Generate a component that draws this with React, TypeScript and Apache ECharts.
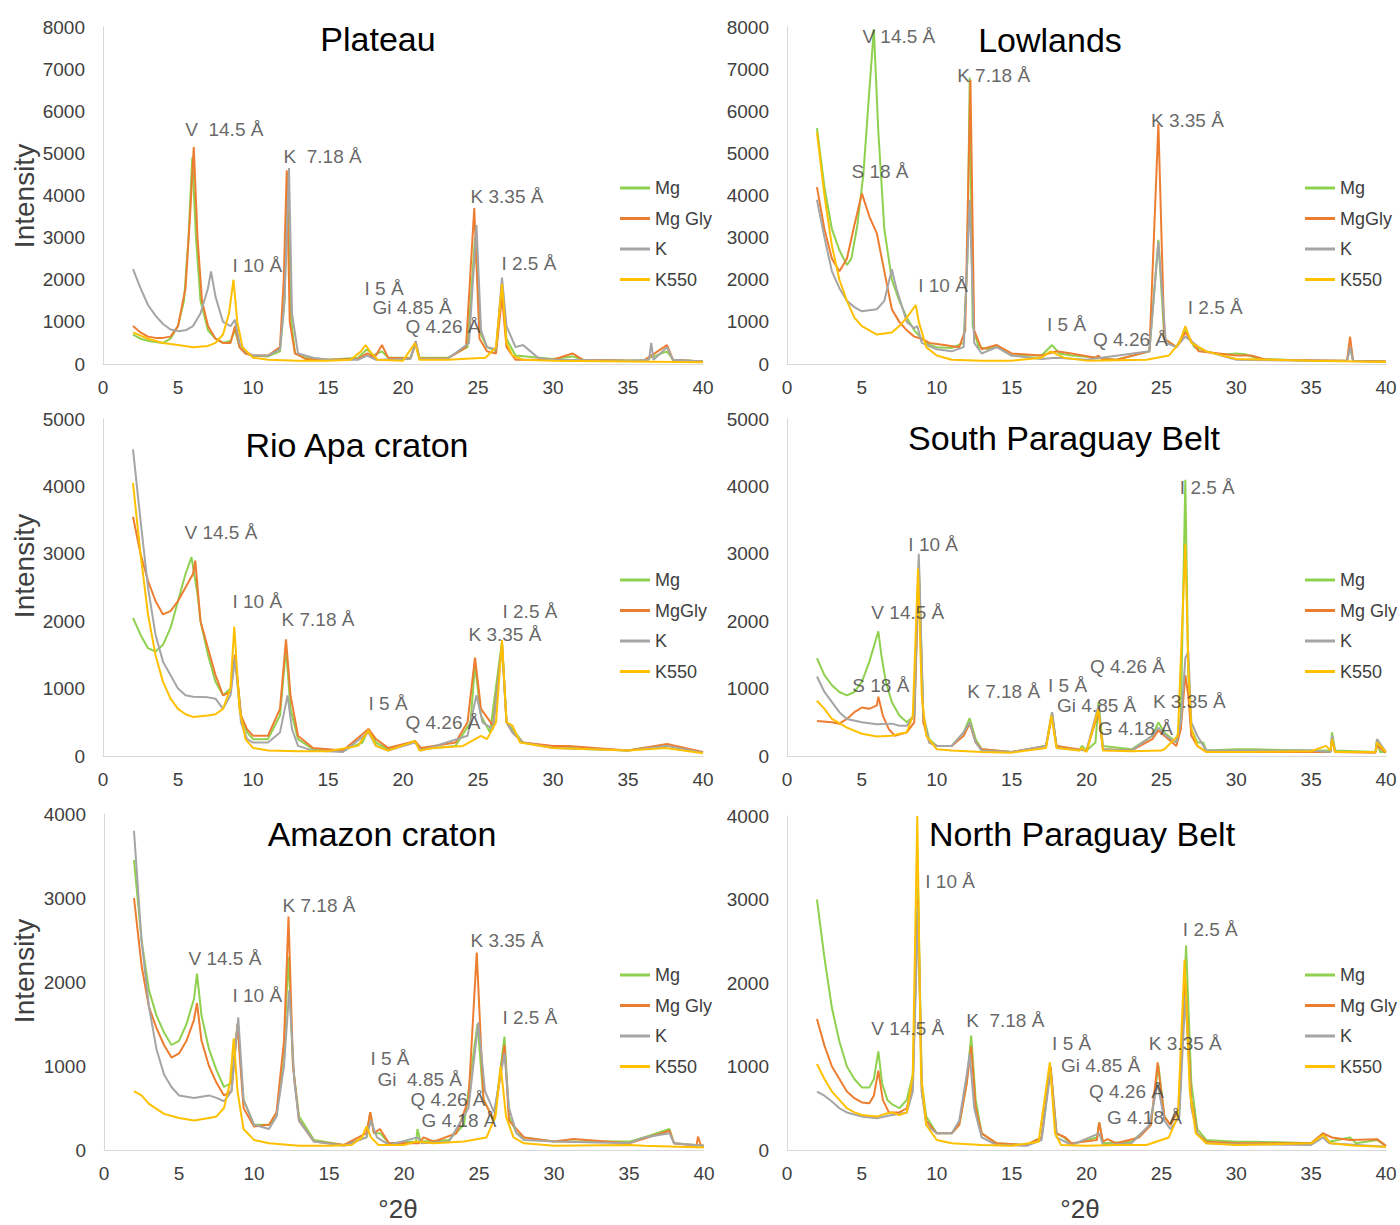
import React, { useEffect, useRef } from 'react';
import * as echarts from 'echarts';

const FONT = '"Liberation Sans", Arial, sans-serif';
const COLORS = ['#8fd14f', '#ed7d31', '#a5a5a5', '#ffc000'];

// ---------- Plateau ----------
const plateauMg = [[2,700],[2.5,600],[3,550],[3.5,520],[4,500],[4.5,600],[5,900],[5.4,1500],[5.7,3000],[5.95,4900],[6.2,3000],[6.5,1500],[7,800],[7.5,600],[8,500],[8.5,550],[8.8,800],[9.1,400],[9.5,250],[10,200],[11,180],[11.8,300],[12.1,1500],[12.3,4550],[12.5,1200],[12.8,250],[13.5,150],[15,100],[17,150],[17.6,350],[18,200],[18.6,300],[19,150],[20.5,150],[20.85,500],[21.1,150],[23,150],[24.3,400],[24.8,3000],[25.2,700],[25.6,400],[26.2,300],[26.6,1900],[26.9,600],[27.5,200],[30,120],[31.3,180],[32,100],[36,80],[36.5,150],[37.6,300],[38,100],[40,60]];
const plateauMgGly = [[2,900],[2.5,750],[3,650],[3.5,620],[4,620],[4.5,650],[5,900],[5.5,1800],[5.8,3500],[6.05,5150],[6.3,3000],[6.6,1500],[7,900],[7.5,600],[8,500],[8.5,500],[8.8,900],[9.1,400],[9.5,250],[10,200],[11,200],[11.8,400],[12.05,2000],[12.25,4600],[12.45,1000],[12.8,250],[13.5,120],[15,100],[17,120],[17.6,250],[18.1,150],[18.6,450],[19,150],[20.5,130],[20.85,500],[21.1,130],[23,130],[24.2,400],[24.75,3700],[25.1,600],[25.6,300],[26.2,250],[26.6,1600],[26.9,400],[27.2,250],[27.5,100],[30,100],[31.3,250],[32,100],[36,70],[37.6,450],[38,100],[40,60]];
const plateauK = [[2,2250],[2.5,1800],[3,1400],[3.5,1150],[4,950],[4.5,820],[5,780],[5.5,800],[6,900],[6.5,1200],[7,1800],[7.2,2200],[7.5,1600],[8,1000],[8.5,900],[8.8,1050],[9.1,500],[9.5,300],[10,200],[11,200],[11.8,350],[12.1,1500],[12.4,4650],[12.6,1200],[13,250],[14,150],[15,100],[17,100],[17.6,200],[18.2,100],[20.5,120],[20.85,550],[21.1,120],[23,130],[24.4,500],[24.9,3300],[25.2,800],[25.6,400],[26.2,350],[26.6,2050],[26.9,900],[27.5,400],[28,450],[28.5,300],[29,150],[30,100],[35,80],[36.4,100],[36.55,500],[36.7,100],[37.6,400],[38,100],[40,60]];
const plateauK550 = [[2,750],[3,600],[4,500],[5,450],[6,400],[7,430],[7.5,500],[8,700],[8.4,1200],[8.7,2000],[8.95,1000],[9.3,400],[10,150],[11,100],[13,80],[15,80],[16.5,100],[17.2,300],[17.5,450],[17.8,300],[18.3,100],[20,80],[20.8,500],[21.1,100],[23,100],[24.5,130],[25.5,150],[26.2,400],[26.6,1900],[26.9,500],[27.3,200],[28,100],[30,80],[35,60],[40,40]];
const plateauLabels = [
  { name: 'V  14.5 Å', value: [5.45, 5555] },
  { name: 'I 10 Å', value: [8.6, 2350] },
  { name: 'K  7.18 Å', value: [12.0, 4914] },
  { name: 'I 5 Å', value: [17.4, 1804] },
  { name: 'Gi 4.85 Å', value: [17.93, 1353] },
  { name: 'Q 4.26 Å', value: [20.13, 902] },
  { name: 'K 3.35 Å', value: [24.47, 3988] },
  { name: 'I 2.5 Å', value: [26.53, 2374] },
];

// ---------- Lowlands ----------
const lowMg = [[2,5600],[2.5,4200],[3,3200],[3.5,2700],[4,2350],[4.3,2500],[4.7,3300],[5.1,4500],[5.5,6500],[5.8,7950],[6.1,5500],[6.5,3200],[7,2000],[7.5,1500],[8,1100],[8.5,800],[9,600],[9.5,450],[10,400],[11,380],[11.8,500],[12.05,2500],[12.2,6800],[12.4,900],[12.8,400],[13.5,350],[14,450],[14.5,300],[15,200],[17,200],[17.7,450],[18.2,250],[19,200],[20.8,150],[22,100],[24.2,300],[24.8,2950],[25.2,600],[26,400],[26.6,800],[27.2,400],[28,300],[29,220],[30,250],[30.6,230],[31.5,120],[35,80],[37.4,80],[37.6,400],[37.8,80],[40,60]];
const lowMgGly = [[2,4200],[2.5,3200],[3,2500],[3.5,2200],[4,2500],[4.5,3300],[5,4050],[5.5,3500],[6,3100],[6.5,2200],[7,1300],[7.5,1000],[8,800],[8.5,650],[9,600],[9.5,500],[10.5,450],[11.5,400],[11.9,800],[12.25,6750],[12.5,800],[13,350],[14,450],[15,250],[17,200],[18,300],[19,250],[20.6,150],[20.8,200],[21,120],[22,100],[24.2,300],[24.8,5700],[25.2,600],[26,400],[26.6,750],[27.5,300],[30,200],[31,200],[32,100],[37.4,80],[37.6,650],[37.8,80],[40,60]];
const lowK = [[2,3900],[2.5,3000],[3,2200],[3.5,1800],[4,1500],[4.5,1350],[5,1250],[6,1300],[6.5,1500],[7,2250],[7.3,1800],[8,1000],[8.5,850],[8.7,900],[9,500],[10,350],[11,300],[11.8,400],[12.2,3900],[12.5,500],[13,250],[14,400],[15,200],[17,120],[18,150],[20,100],[24.2,300],[24.8,2900],[25.3,500],[26,400],[26.6,650],[27.5,400],[28,300],[30,100],[37.4,70],[37.6,400],[37.8,70],[40,50]];
const lowK550 = [[2,5500],[2.5,4000],[3,2800],[3.5,2000],[4,1500],[4.5,1100],[5,900],[6,700],[7,750],[7.5,900],[8,1100],[8.6,1400],[8.8,1000],[9.3,400],[10,200],[11,100],[13,80],[15,80],[17,150],[17.6,300],[18.5,150],[20,80],[24,100],[25.5,200],[26.2,500],[26.6,900],[27,500],[28,300],[30,120],[35,80],[40,50]];
const lowLabels = [
  { name: 'V 14.5 Å', value: [5.0, 7786] },
  { name: 'K 7.18 Å', value: [11.33, 6860] },
  { name: 'S 18 Å', value: [4.27, 4558] },
  { name: 'I 10 Å', value: [8.73, 1852] },
  { name: 'K 3.35 Å', value: [24.27, 5769] },
  { name: 'I 5 Å', value: [17.33, 926] },
  { name: 'Q 4.26 Å', value: [20.4, 570] },
  { name: 'I 2.5 Å', value: [26.73, 1353] },
];

// ---------- Rio Apa craton ----------
const rioMg = [[2,2050],[2.5,1800],[3,1600],[3.5,1550],[4,1650],[4.5,1900],[5,2300],[5.5,2700],[5.9,2950],[6.3,2400],[6.5,2000],[7,1500],[7.5,1100],[8,900],[8.5,1000],[8.8,1500],[9.2,600],[9.6,350],[10,250],[11,250],[11.8,600],[12.2,1600],[12.5,700],[13,250],[14,100],[16,80],[17.3,200],[17.7,400],[18.2,200],[19,100],[20.8,220],[21.2,100],[23.5,150],[24.5,500],[24.8,1350],[25.2,600],[25.8,350],[26.6,1700],[26.9,500],[27.3,400],[28,200],[30,130],[35,80],[36,120],[37.6,150],[40,50]];
const rioMgGly = [[2,3550],[2.5,3000],[3,2600],[3.5,2300],[4,2100],[4.5,2150],[5,2300],[5.5,2500],[6,2700],[6.15,2900],[6.5,2000],[7,1600],[7.5,1200],[8,900],[8.5,950],[8.8,1500],[9.2,600],[9.6,400],[10,300],[11,300],[11.8,700],[12.2,1730],[12.5,900],[13,300],[14,120],[16,80],[17.7,400],[18.2,250],[19,120],[20.8,220],[21.2,120],[23.5,200],[24.3,500],[24.8,1460],[25.2,700],[26,450],[26.6,1650],[26.9,500],[27.3,350],[28,200],[30,150],[31,150],[35,80],[37.6,180],[40,60]];
const rioK = [[2,4550],[2.5,3500],[3,2500],[3.5,1800],[4,1400],[4.5,1200],[5,1000],[5.5,900],[6,880],[7,870],[7.5,850],[8,700],[8.5,900],[8.8,1450],[9.2,500],[9.6,250],[10,200],[11,200],[11.8,350],[12.3,900],[12.6,400],[13,150],[14,80],[16,60],[17.7,350],[18.2,150],[19,80],[20.8,200],[21.2,80],[24.3,300],[24.9,900],[25.3,500],[26,400],[26.6,1650],[26.9,500],[27.3,350],[28,200],[30,120],[35,80],[37.6,150],[40,50]];
const rioK550 = [[2,4050],[2.5,3000],[3,2100],[3.5,1500],[4,1100],[4.5,850],[5,700],[5.5,620],[6,580],[7,600],[7.5,620],[8,700],[8.5,1000],[8.75,1920],[9.1,700],[9.5,250],[10,120],[11,80],[13,70],[15,70],[17,150],[17.7,380],[18.2,150],[19,80],[20.8,220],[21.1,80],[22,120],[24,150],[25.2,300],[25.6,250],[26.2,500],[26.6,1720],[26.9,500],[27.3,450],[27.8,200],[30,120],[35,80],[37.5,120],[40,40]];
const rioLabels = [
  { name: 'V 14.5 Å', value: [5.4, 3323] },
  { name: 'I 10 Å', value: [8.6, 2285] },
  { name: 'K 7.18 Å', value: [11.87, 2018] },
  { name: 'I 5 Å', value: [17.67, 772] },
  { name: 'Q 4.26 Å', value: [20.13, 504] },
  { name: 'K 3.35 Å', value: [24.33, 1810] },
  { name: 'I 2.5 Å', value: [26.6, 2151] },
];

// ---------- South Paraguay Belt ----------
const spMg = [[2,1450],[2.5,1200],[3,1050],[3.5,950],[4,900],[4.5,950],[5,1100],[5.5,1400],[5.9,1700],[6.1,1850],[6.3,1500],[6.6,1100],[7,800],[7.5,600],[8,500],[8.5,600],[8.8,2900],[9.1,600],[9.5,250],[10,150],[11,150],[11.8,350],[12.2,560],[12.6,250],[13,100],[15,60],[17.3,150],[17.7,650],[18,150],[19.5,80],[19.7,150],[20,80],[20.6,200],[20.8,800],[21.1,150],[23,100],[24.4,300],[24.8,500],[25.2,350],[26,200],[26.3,600],[26.6,4100],[26.8,1200],[27,400],[27.4,200],[27.8,200],[28,80],[30,100],[31.2,100],[35,80],[36.3,80],[36.4,350],[36.6,80],[39.3,60],[39.4,250],[39.6,60],[40,60]];
const spMgGly = [[2,520],[3,500],[3.5,480],[4,550],[4.5,650],[5,720],[5.5,700],[6,750],[6.1,880],[6.4,600],[6.8,400],[7.2,300],[8,350],[8.5,500],[8.8,2800],[9.1,500],[9.5,200],[10,150],[11,150],[11.8,300],[12.2,480],[12.6,200],[13,100],[15,60],[17.3,150],[17.7,600],[18,150],[20,80],[20.8,650],[21.1,100],[23,80],[24.4,250],[24.8,380],[25.2,300],[26,150],[26.3,400],[26.6,1200],[26.8,900],[27,300],[27.4,150],[28,60],[30,60],[35,60],[36.3,60],[36.4,250],[36.6,60],[39.3,50],[39.4,150],[40,50]];
const spK = [[2,1180],[2.5,950],[3,800],[3.5,650],[4,550],[5,500],[6,470],[7,480],[7.5,450],[8,450],[8.5,600],[8.8,3000],[9.1,600],[9.5,200],[10,150],[11,150],[11.8,350],[12.2,500],[12.6,200],[13,80],[15,60],[17.3,150],[17.7,650],[18,120],[20,80],[20.8,750],[21.1,100],[23,80],[24.4,300],[24.8,420],[25.3,300],[26,200],[26.3,500],[26.6,1450],[26.8,1550],[27,500],[27.4,300],[28,80],[30,80],[35,80],[36.3,60],[36.4,300],[36.6,60],[39.3,60],[39.4,250],[40,60]];
const spK550 = [[2,820],[2.5,700],[3,550],[4,420],[5,330],[6,290],[7,300],[7.5,330],[8,350],[8.4,600],[8.75,2780],[9,900],[9.3,300],[10,100],[11,80],[13,60],[15,50],[17.3,120],[17.65,600],[18,120],[19.5,80],[19.7,120],[20,60],[20.8,700],[21.1,80],[23,70],[25,80],[25.2,100],[26.1,300],[26.6,3150],[26.8,1300],[27,400],[27.4,150],[28,60],[30,60],[35,70],[36,150],[36.3,80],[36.4,250],[36.6,60],[39.3,60],[39.4,200],[40,60]];
const spLabels = [
  { name: 'I 2.5 Å', value: [26.2, 3991] },
  { name: 'I 10 Å', value: [8.07, 3145] },
  { name: 'V 14.5 Å', value: [5.6, 2136] },
  { name: 'Q 4.26 Å', value: [20.2, 1335] },
  { name: 'S 18 Å', value: [4.33, 1039] },
  { name: 'K 7.18 Å', value: [12.0, 950] },
  { name: 'I 5 Å', value: [17.4, 1053] },
  { name: 'Gi 4.85 Å', value: [18.0, 742] },
  { name: 'K 3.35 Å', value: [24.4, 816] },
  { name: 'G 4.18 Å', value: [20.73, 415] },
];

// ---------- Amazon craton ----------
const amMg = [[2,3450],[2.5,2500],[3,1900],[3.5,1600],[4,1400],[4.5,1250],[5,1300],[5.5,1500],[6,1800],[6.2,2100],[6.5,1600],[7,1200],[7.5,950],[8,750],[8.5,800],[8.9,1500],[9.3,600],[10,300],[11,300],[11.5,400],[12,1200],[12.3,2300],[12.6,1000],[13,400],[14,120],[16,60],[17.5,150],[17.75,450],[18,200],[18.4,200],[19,80],[20.8,100],[20.9,250],[21.1,100],[23,120],[24,300],[24.9,1500],[25.3,600],[26,350],[26.7,1350],[27,400],[27.5,200],[28,150],[30,100],[35,100],[36,150],[37.7,250],[38,80],[40,50]];
const amMgGly = [[2,3000],[2.5,2200],[3,1700],[3.5,1450],[4,1250],[4.5,1100],[5,1150],[5.5,1300],[6,1550],[6.2,1750],[6.5,1300],[7,1000],[7.5,800],[8,650],[8.5,700],[8.9,1500],[9.3,500],[10,280],[11,300],[11.5,450],[12,1300],[12.3,2780],[12.6,1000],[13,350],[14,100],[16,60],[17.5,200],[17.75,450],[18,200],[18.4,250],[19,80],[21,80],[21.3,150],[22,100],[23.5,200],[24.3,600],[24.85,2350],[25.3,600],[26,350],[26.7,1250],[27,350],[28,150],[30,100],[31.3,130],[35,80],[37.7,230],[38,80],[39.5,50],[39.6,160],[39.8,50],[40,50]];
const amK = [[2,3800],[2.5,2500],[3,1700],[3.5,1200],[4,900],[4.5,750],[5,650],[6,620],[7,650],[7.5,620],[8,580],[8.5,700],[8.95,1580],[9.3,600],[10,300],[11,250],[11.5,400],[12,1000],[12.35,1900],[12.7,800],[13,350],[14,100],[16,50],[17.5,150],[17.8,350],[18.2,150],[19,60],[20.9,150],[21.2,80],[23,100],[24.3,500],[24.95,1520],[25.4,700],[26,450],[26.7,1150],[27,500],[27.5,200],[28,120],[30,100],[35,80],[36,150],[37.7,200],[38,80],[40,50]];
const amK550 = [[2,700],[2.5,650],[3,550],[4,430],[5,380],[6,350],[7,380],[7.5,400],[8,500],[8.4,800],[8.65,1330],[8.9,700],[9.3,250],[10,120],[11,80],[13,50],[15,50],[16.5,60],[17.2,150],[17.5,280],[17.8,150],[18.3,60],[20,60],[20.8,100],[22,80],[24,100],[25.5,150],[26.1,400],[26.45,1000],[26.8,400],[27.3,150],[28,80],[30,50],[35,60],[36,50],[40,30]];
const amLabels = [
  { name: 'K 7.18 Å', value: [11.87, 2905] },
  { name: 'K 3.35 Å', value: [24.4, 2500] },
  { name: 'V 14.5 Å', value: [5.6, 2274] },
  { name: 'I 10 Å', value: [8.53, 1845] },
  { name: 'I 2.5 Å', value: [26.53, 1583] },
  { name: 'I 5 Å', value: [17.73, 1095] },
  { name: 'Gi  4.85 Å', value: [18.2, 845] },
  { name: 'Q 4.26 Å', value: [20.4, 607] },
  { name: 'G 4.18 Å', value: [21.13, 357] },
];

// ---------- North Paraguay Belt ----------
const npMg = [[2,3000],[2.5,2300],[3,1700],[3.5,1300],[4,1000],[4.5,850],[5,750],[5.5,750],[5.8,850],[6.1,1180],[6.35,800],[6.7,600],[7,550],[7.5,500],[8,600],[8.4,900],[8.75,3150],[9,800],[9.3,400],[10,200],[11,200],[11.5,300],[12,800],[12.3,1370],[12.6,600],[13,200],[14,80],[16,60],[17,150],[17.6,1000],[18,200],[18.5,150],[19,70],[20.7,150],[20.85,330],[21.1,80],[23,100],[24.3,300],[24.8,1020],[25.2,400],[25.6,300],[26.2,500],[26.65,2450],[27,800],[27.4,250],[28,120],[30,100],[31.3,100],[35,80],[35.8,200],[36.2,100],[37.6,150],[38,80],[39.4,120],[40,50]];
const npMgGly = [[2,1570],[2.5,1250],[3,1000],[3.5,850],[4,700],[4.5,620],[5,570],[5.5,560],[5.8,650],[6.1,950],[6.4,600],[6.8,450],[7.5,450],[8,500],[8.4,800],[8.75,3000],[9,700],[9.3,350],[10,200],[11,200],[11.5,300],[12,800],[12.3,1240],[12.6,500],[13,200],[14,80],[16,60],[17,150],[17.6,1000],[18,200],[18.6,150],[19,80],[20.7,120],[20.85,330],[21.1,100],[21.4,130],[22,80],[23.5,150],[24.3,300],[24.75,1050],[25.2,400],[25.6,300],[26.2,500],[26.6,2050],[27,600],[27.4,200],[28,100],[30,80],[35,80],[35.8,200],[36.4,150],[37.6,120],[39.4,130],[40,50]];
const npK = [[2,700],[2.5,650],[3,580],[3.5,500],[4,450],[5,400],[6,380],[7,420],[7.5,430],[8,450],[8.4,700],[8.75,2900],[9,700],[9.3,300],[10,200],[11,200],[11.5,350],[12,900],[12.2,1150],[12.5,500],[13,150],[14,60],[16,50],[17,120],[17.6,950],[18,150],[19,60],[20.85,200],[21.1,60],[23,80],[24.2,300],[24.75,800],[25.2,350],[25.6,250],[26.2,400],[26.6,1850],[27,500],[27.4,200],[28,80],[30,70],[35,60],[35.8,150],[36.2,80],[40,40]];
const npK550 = [[2,1030],[2.5,850],[3,700],[3.5,600],[4,500],[4.5,450],[5,420],[6,400],[6.5,430],[7,450],[7.5,420],[8,450],[8.4,900],[8.7,4000],[8.95,900],[9.3,300],[10,120],[11,80],[13,60],[15,50],[16.8,100],[17.55,1050],[17.9,200],[18.3,60],[20,50],[22,60],[24,60],[25.5,150],[26.1,400],[26.55,2280],[26.9,700],[27.3,200],[28,80],[30,60],[35,80],[35.8,180],[36.3,80],[38,50],[40,40]];
const npLabels = [
  { name: 'I 10 Å', value: [9.2, 3210] },
  { name: 'I 2.5 Å', value: [26.4, 2635] },
  { name: 'V 14.5 Å', value: [5.6, 1461] },
  { name: 'K  7.18 Å', value: [11.93, 1545] },
  { name: 'I 5 Å', value: [17.67, 1281] },
  { name: 'K 3.35 Å', value: [24.13, 1281] },
  { name: 'Gi 4.85 Å', value: [18.27, 1006] },
  { name: 'Q 4.26 Å', value: [20.13, 695] },
  { name: 'G 4.18 Å', value: [21.33, 395] },
];

const panelTitles = ['Plateau', 'Lowlands', 'Rio Apa craton', 'South Paraguay Belt', 'Amazon craton', 'North Paraguay Belt'];
const yMaxes = [8000, 8000, 5000, 5000, 4000, 4000];
const legendNames = [
  ['Mg', 'Mg Gly', 'K', 'K550'],
  ['Mg', 'MgGly', 'K', 'K550'],
  ['Mg', 'MgGly', 'K', 'K550'],
  ['Mg', 'Mg Gly', 'K', 'K550'],
  ['Mg', 'Mg Gly', 'K', 'K550'],
  ['Mg', 'Mg Gly', 'K', 'K550'],
];
const panelData = [
  [plateauMg, plateauMgGly, plateauK, plateauK550],
  [lowMg, lowMgGly, lowK, lowK550],
  [rioMg, rioMgGly, rioK, rioK550],
  [spMg, spMgGly, spK, spK550],
  [amMg, amMgGly, amK, amK550],
  [npMg, npMgGly, npK, npK550],
];
const panelLabels = [plateauLabels, lowLabels, rioLabels, spLabels, amLabels, npLabels];

// layout (pixels)
const grids = [
  { left: 103, top: 27, width: 600, height: 337 },
  { left: 787, top: 27, width: 599, height: 337 },
  { left: 103, top: 419, width: 600, height: 337 },
  { left: 787, top: 419, width: 599, height: 337 },
  { left: 104, top: 814, width: 600, height: 336 },
  { left: 787, top: 816, width: 599, height: 334 },
];
const titlePos = [[378, 39], [1050, 40], [357, 445], [1064, 438], [382, 834], [1082, 834]];
const legendPos = [[615, 178], [1300, 178], [615, 570], [1300, 570], [615, 965], [1300, 965]];

export default function App() {
  const ref = useRef<HTMLDivElement>(null);
  useEffect(() => {
    if (!ref.current) return;
    const chart = echarts.init(ref.current, null, { renderer: 'svg' });
    const series: any[] = [];
    panelData.forEach((sets, i) => {
      sets.forEach((d, j) => {
        series.push({
          type: 'line',
          name: legendNames[i][j],
          xAxisIndex: i,
          yAxisIndex: i,
          data: d,
          showSymbol: false,
          symbol: 'none',
          color: COLORS[j],
          lineStyle: { width: 2, color: COLORS[j] },
          z: 2 + j,
        });
      });
      series.push({
        type: 'scatter',
        xAxisIndex: i,
        yAxisIndex: i,
        data: panelLabels[i],
        symbolSize: 1,
        itemStyle: { color: 'rgba(0,0,0,0)' },
        silent: true,
        z: 10,
        label: {
          show: true,
          position: 'right',
          distance: 0,
          formatter: '{b}',
          fontFamily: FONT,
          fontSize: 19,
          color: '#404040',
        },
      });
    });

    const graphic: any[] = [];
    titlePos.forEach((p, i) => {
      graphic.push({
        type: 'text', x: p[0], y: p[1],
        style: { text: panelTitles[i], font: `34px ${FONT}`, fill: '#000', align: 'center', verticalAlign: 'middle' },
      });
    });
    [196, 566, 971].forEach((y) => {
      graphic.push({
        type: 'text', x: 24, y, rotation: Math.PI / 2,
        style: { text: 'Intensity', font: `28px ${FONT}`, fill: '#404040', align: 'center', verticalAlign: 'middle' },
      });
    });
    [398, 1080].forEach((x) => {
      graphic.push({
        type: 'text', x, y: 1209,
        style: { text: '°2θ', font: `26px ${FONT}`, fill: '#404040', align: 'center', verticalAlign: 'middle' },
      });
    });

    chart.setOption({
      animation: false,
      backgroundColor: '#fff',
      grid: grids,
      xAxis: grids.map((_, i) => ({
        gridIndex: i, type: 'value', min: 0, max: 40, interval: 5,
        axisLine: { show: true, lineStyle: { color: '#d9d9d9', width: 1 } },
        axisTick: { show: false }, splitLine: { show: false },
        axisLabel: { fontFamily: FONT, fontSize: 19, color: '#404040', margin: 14, formatter: (v: number) => String(v) },
      })),
      yAxis: grids.map((_, i) => ({
        gridIndex: i, type: 'value', min: 0, max: yMaxes[i], interval: 1000,
        axisLine: { show: true, lineStyle: { color: '#d9d9d9', width: 1 } },
        axisTick: { show: false }, splitLine: { show: false },
        axisLabel: { fontFamily: FONT, fontSize: 19, color: '#404040', margin: 18, formatter: (v: number) => String(v) },
      })),
      legend: legendPos.map((p, i) => ({
        data: legendNames[i],
        orient: 'vertical',
        left: p[0], top: p[1] - 5,
        icon: 'rect', itemWidth: 30, itemHeight: 3, itemGap: 10.5,
        selectedMode: false,
        textStyle: { fontFamily: FONT, fontSize: 18, color: '#404040', lineHeight: 20 },
      })),
      series,
      graphic,
    });
    return () => chart.dispose();
  }, []);
  return <div ref={ref} style={{ position: 'absolute', left: 0, top: 0, width: 1400, height: 1225 }} />;
}
